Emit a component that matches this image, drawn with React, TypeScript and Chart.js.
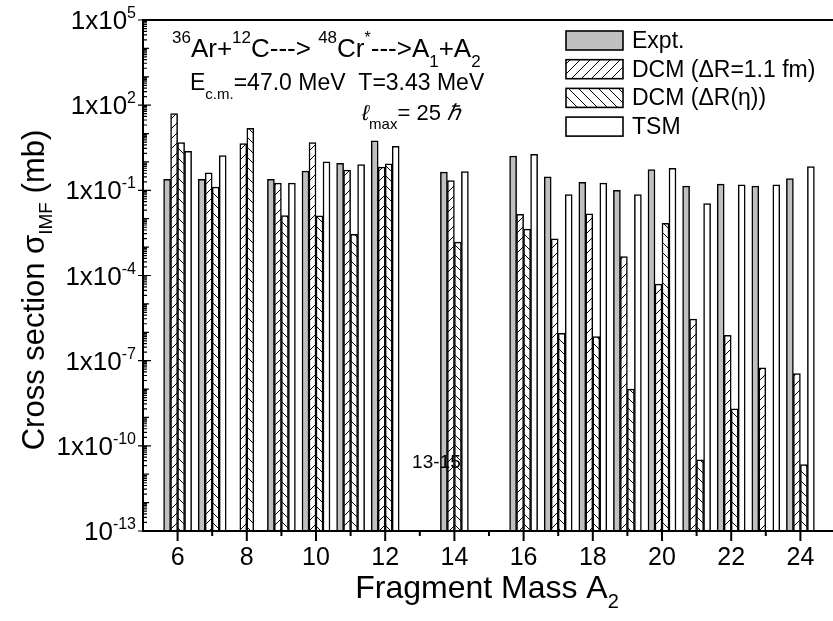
import React, { useEffect, useRef } from "react";
import { Chart, registerables } from "chart.js";

Chart.register(...registerables);

// Fragment masses A2 (13 and 15 have no entries)
const masses = [6, 7, 8, 9, 10, 11, 12, 14, 16, 17, 18, 19, 20, 21, 22, 23, 24];

// Cross sections in mb
const expt = [0.245, 0.245, null, 0.245, 0.48, 0.89, 5.5, 0.44, 1.62, 0.3, 0.19, 0.1, 0.54, 0.14, 0.166, 0.14, 0.26];
const dcmFixed = [51, 0.41, 4.4, 0.18, 4.8, 0.52, 0.66, 0.22, 0.0144, 0.00195, 0.0148, 4.6e-4, 5e-5, 2.9e-6, 7.8e-7, 5.6e-8, 3.5e-8];
const dcmEta = [4.8, 0.13, 15.4, 0.013, 0.0126, 0.0028, 0.85, 0.0015, 0.0043, 9.1e-7, 7.1e-7, 1e-8, 0.0069, 3.2e-11, 2.0e-9, null, 2.2e-11];
const tsm = [2.36, 1.66, null, 0.18, 1.0, 0.8, 3.55, 0.46, 1.86, 0.071, 0.18, 0.071, 0.6, 0.034, 0.155, 0.155, 0.68];

const seriesLabels = ["Expt.", "DCM (\u0394R=1.1 fm)", "DCM (\u0394R(\u03b7))", "TSM"];

// Labelled decades on the y axis
const yTickExponents = [5, 2, -1, -4, -7, -10, -13];
const xTickLabels = [6, 8, 10, 12, 14, 16, 18, 20, 22, 24];

const FONT = '"Liberation Sans", Arial, Helvetica, sans-serif';

type Part = { t: string; s: number; dy?: number; it?: boolean };

function fontOf(p: Part) {
  return `${p.it ? "italic " : ""}${p.s}px ${FONT}`;
}

function drawRich(ctx: CanvasRenderingContext2D, x: number, y: number, parts: Part[], align: "left" | "center" | "right") {
  let w = 0;
  for (const p of parts) {
    ctx.font = fontOf(p);
    w += ctx.measureText(p.t).width;
  }
  let cx = align === "center" ? x - w / 2 : align === "right" ? x - w : x;
  ctx.textAlign = "left";
  ctx.textBaseline = "alphabetic";
  for (const p of parts) {
    ctx.font = fontOf(p);
    ctx.fillText(p.t, cx, y + (p.dy || 0));
    cx += ctx.measureText(p.t).width;
  }
}

function makeHatch(dir: "up" | "down"): CanvasPattern | string {
  const size = 10;
  const c = document.createElement("canvas");
  c.width = size;
  c.height = size;
  const g = c.getContext("2d");
  if (!g) return "#fff";
  g.fillStyle = "#fff";
  g.fillRect(0, 0, size, size);
  g.strokeStyle = "#000";
  g.lineWidth = 1;
  g.beginPath();
  if (dir === "up") {
    g.moveTo(-1, size + 1);
    g.lineTo(size + 1, -1);
    g.moveTo(-1, 1);
    g.lineTo(1, -1);
    g.moveTo(size - 1, size + 1);
    g.lineTo(size + 1, size - 1);
  } else {
    g.moveTo(-1, -1);
    g.lineTo(size + 1, size + 1);
    g.moveTo(size - 1, -1);
    g.lineTo(size + 1, 1);
    g.moveTo(-1, size - 1);
    g.lineTo(1, size + 1);
  }
  g.stroke();
  const pat = g.createPattern(c, "repeat");
  return pat || "#fff";
}

const decorPlugin = {
  id: "decor",
  afterDraw(chart: any) {
    const ctx: CanvasRenderingContext2D = chart.ctx;
    const { left, top, right, bottom } = chart.chartArea;
    const xs = chart.scales.x;
    const ys = chart.scales.y;
    ctx.save();
    ctx.fillStyle = "#000";
    ctx.strokeStyle = "#000";

    // frame
    ctx.lineWidth = 2;
    ctx.beginPath();
    ctx.moveTo(left, top);
    ctx.lineTo(right, top);
    ctx.lineTo(right, bottom);
    ctx.lineTo(left, bottom);
    ctx.closePath();
    ctx.stroke();

    // y ticks
    ctx.lineWidth = 1.2;
    ctx.beginPath();
    for (let e = -13; e <= 5; e++) {
      const y = ys.getPixelForValue(Math.pow(10, e));
      const labelled = (e + 13) % 3 === 0;
      ctx.moveTo(left - (labelled ? 5 : 0), y);
      ctx.lineTo(left + (labelled ? 8 : 6), y);
      if (e < 5) {
        for (let m = 2; m <= 9; m++) {
          const ym = ys.getPixelForValue(m * Math.pow(10, e));
          ctx.moveTo(left, ym);
          ctx.lineTo(left + 4, ym);
        }
      }
    }
    ctx.stroke();

    // x ticks
    ctx.lineWidth = 2;
    ctx.beginPath();
    for (let n = 6; n <= 24; n++) {
      const x = xs.getPixelForValue(n);
      ctx.moveTo(x, bottom);
      ctx.lineTo(x, bottom + (n % 2 === 0 ? 10 : 5));
    }
    ctx.stroke();

    // y tick labels
    for (const e of yTickExponents) {
      const y = ys.getPixelForValue(Math.pow(10, e));
      const base = e === -13 ? "10" : "1x10";
      drawRich(ctx, left - 7, y + 9, [
        { t: base, s: 26 },
        { t: String(e), s: 16, dy: -11 },
      ], "right");
    }

    // x tick labels
    ctx.font = `25px ${FONT}`;
    ctx.textAlign = "center";
    ctx.textBaseline = "alphabetic";
    for (const v of xTickLabels) {
      ctx.fillText(String(v), xs.getPixelForValue(v), bottom + 34);
    }

    // axis titles
    drawRich(ctx, 487, 598, [
      { t: "Fragment Mass A", s: 32 },
      { t: "2", s: 20, dy: 10 },
    ], "center");

    ctx.save();
    ctx.translate(44, 290);
    ctx.rotate(-Math.PI / 2);
    drawRich(ctx, 0, 0, [
      { t: "Cross section \u03c3", s: 31 },
      { t: "IMF", s: 19, dy: 8 },
      { t: " (mb)", s: 31 },
    ], "center");
    ctx.restore();

    // reaction annotations
    drawRich(ctx, 172, 57, [
      { t: "36", s: 17, dy: -14 },
      { t: "Ar+", s: 26 },
      { t: "12", s: 17, dy: -14 },
      { t: "C---> ", s: 26 },
      { t: "48", s: 17, dy: -14 },
      { t: "Cr", s: 26 },
      { t: "*", s: 16, dy: -14 },
      { t: "--->A", s: 26 },
      { t: "1", s: 17, dy: 10 },
      { t: "+A", s: 26 },
      { t: "2", s: 17, dy: 10 },
    ], "left");

    drawRich(ctx, 190, 90, [
      { t: "E", s: 23 },
      { t: "c.m.", s: 15, dy: 9 },
      { t: "=47.0 MeV  T=3.43 MeV", s: 23 },
    ], "left");

    drawRich(ctx, 362, 120, [
      { t: "\u2113", s: 22, it: true },
      { t: "max", s: 15, dy: 9 },
      { t: "= 25 ", s: 22 },
      { t: "\u210f", s: 22, it: true },
    ], "left");

    ctx.font = `19px ${FONT}`;
    ctx.textAlign = "center";
    ctx.fillText("13-15", xs.getPixelForValue(14) - 18, 468);

    // legend
    const ds = chart.data.datasets;
    for (let i = 0; i < ds.length; i++) {
      const by = 31 + i * 28.7;
      ctx.fillStyle = ds[i].backgroundColor;
      ctx.fillRect(566, by, 57, 19);
      ctx.lineWidth = 1.6;
      ctx.strokeStyle = "#000";
      ctx.strokeRect(566, by, 57, 19);
      ctx.fillStyle = "#000";
      ctx.font = `23px ${FONT}`;
      ctx.textAlign = "left";
      ctx.textBaseline = "alphabetic";
      ctx.fillText(ds[i].label, 632, by + 17);
    }

    ctx.restore();
  },
};

export default function App() {
  const ref = useRef<HTMLCanvasElement | null>(null);

  useEffect(() => {
    if (!ref.current) return;
    const toPoints = (vals: (number | null)[]) => masses.map((m, i) => ({ x: m, y: vals[i] }));
    const common = { borderColor: "#000", borderWidth: 1.5, barThickness: 7 };
    const chart = new Chart(ref.current, {
      type: "bar",
      data: {
        datasets: [
          { label: seriesLabels[0], data: toPoints(expt), backgroundColor: "#c0c0c0", ...common },
          { label: seriesLabels[1], data: toPoints(dcmFixed), backgroundColor: makeHatch("up"), ...common },
          { label: seriesLabels[2], data: toPoints(dcmEta), backgroundColor: makeHatch("down"), ...common },
          { label: seriesLabels[3], data: toPoints(tsm), backgroundColor: "#ffffff", ...common },
        ] as any,
      },
      options: {
        responsive: false,
        maintainAspectRatio: false,
        devicePixelRatio: 1,
        animation: false,
        layout: { padding: { left: 143, top: 20, right: 15, bottom: 90 } },
        plugins: { legend: { display: false }, tooltip: { enabled: false } },
        scales: {
          x: { type: "linear", min: 5, max: 25, offset: false, display: false },
          y: { type: "logarithmic", min: 1e-13, max: 1e5, display: false },
        },
      } as any,
      plugins: [decorPlugin],
    });
    return () => chart.destroy();
  }, []);

  return (
    <div style={{ position: "fixed", left: 0, top: 0, width: 833, height: 621, overflow: "hidden", background: "#fff" }}>
      <canvas ref={ref} width={850} height={621} style={{ display: "block" }} />
    </div>
  );
}
